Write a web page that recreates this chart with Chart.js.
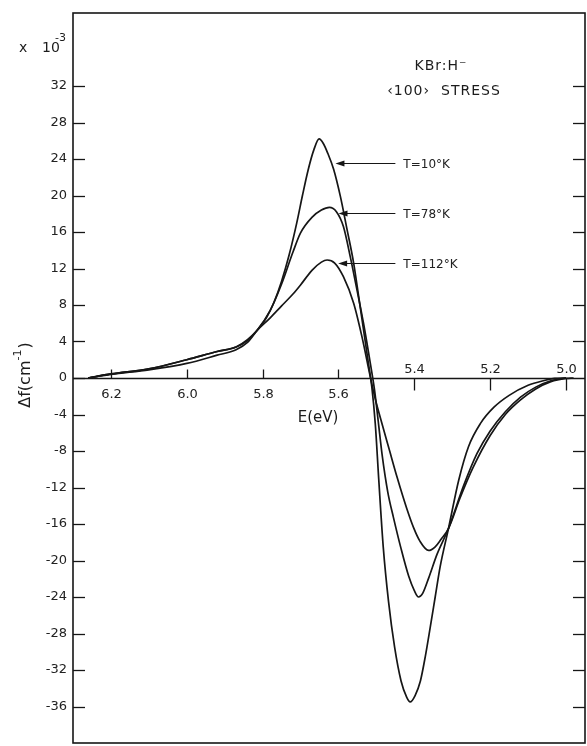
<!DOCTYPE html>
<html>
<head>
<meta charset="utf-8">
<script src="https://cdn.jsdelivr.net/npm/chart.js@4.4.0/dist/chart.umd.min.js"></script>
<style>
  html, body { margin: 0; padding: 0; background: #fff; }
  #wrap { width: 587px; height: 746px; }
</style>
</head>
<body>
<div id="wrap"><canvas id="canvasID" width="587" height="746"></canvas></div>
<script>
// values: E in eV, delta f in units of 1e-3 cm^-1
const energyT10 = [6.26, 6.20, 6.10, 6.00, 5.92, 5.87, 5.84, 5.815, 5.79, 5.77, 5.75, 5.73, 5.71, 5.695, 5.68, 5.665, 5.651, 5.64, 5.628, 5.613, 5.595, 5.578, 5.56, 5.547, 5.534, 5.521, 5.512, 5.503, 5.494, 5.482, 5.468, 5.452, 5.435, 5.42, 5.411, 5.398, 5.384, 5.371, 5.358, 5.345, 5.332, 5.31, 5.283, 5.257, 5.226, 5.19, 5.15, 5.10, 5.06, 5.03, 5.0]
const shiftT10 = [0, 0.4, 0.9, 1.6, 2.5, 3.1, 3.9, 5.2, 6.6, 8.3, 10.6, 13.5, 17.0, 20.0, 22.8, 25.0, 26.2, 25.7, 24.6, 22.9, 19.9, 16.4, 12.6, 9.0, 5.3, 1.6, -1.0, -5.0, -11.0, -18.5, -24.5, -29.5, -33.2, -35.0, -35.5, -34.8, -33.2, -30.5, -27.3, -24.0, -20.7, -16.5, -11.2, -7.5, -5.0, -3.2, -1.9, -0.8, -0.3, -0.05, 0]

const energyT78 = [6.26, 6.20, 6.10, 6.00, 5.92, 5.87, 5.84, 5.815, 5.78, 5.75, 5.72, 5.70, 5.67, 5.645, 5.624, 5.605, 5.587, 5.569, 5.551, 5.534, 5.516, 5.505, 5.495, 5.485, 5.47, 5.455, 5.435, 5.415, 5.40, 5.389, 5.378, 5.362, 5.34, 5.31, 5.27, 5.235, 5.20, 5.16, 5.12, 5.08, 5.04, 5.0]
const shiftT78 = [0, 0.45, 1.0, 2.0, 2.9, 3.4, 4.2, 5.2, 7.4, 10.3, 13.8, 15.9, 17.6, 18.4, 18.7, 18.2, 16.6, 13.3, 9.6, 6.0, 1.6, -1.3, -4.8, -8.4, -12.5, -15.3, -18.7, -21.7, -23.3, -24.0, -23.6, -21.9, -19.3, -16.5, -11.8, -8.3, -5.8, -3.7, -2.1, -1.0, -0.3, 0]

const energyT112 = [6.26, 6.20, 6.10, 6.00, 5.92, 5.87, 5.84, 5.815, 5.78, 5.75, 5.72, 5.70, 5.67, 5.645, 5.63, 5.61, 5.587, 5.56, 5.538, 5.516, 5.503, 5.49, 5.465, 5.446, 5.42, 5.402, 5.385, 5.3625, 5.345, 5.33, 5.31, 5.28, 5.245, 5.20, 5.16, 5.12, 5.08, 5.04, 5.0, 4.98]
const shiftT112 = [0, 0.45, 1.0, 2.0, 2.9, 3.4, 4.1, 5.2, 6.6, 7.9, 9.2, 10.2, 11.8, 12.7, 12.93, 12.6, 11.1, 8.2, 4.5, 0.1, -2.3, -4.3, -8.0, -10.8, -14.3, -16.4, -17.9, -18.9, -18.5, -17.7, -16.5, -13.2, -9.8, -6.3, -4.0, -2.4, -1.2, -0.4, -0.05, 0]

// curve labels and where their arrows touch the curves
const seriesLabels = ['T=10°K', 'T=78°K', 'T=112°K']
const arrowTipEnergy = [5.608, 5.600, 5.601]
const arrowLevel = [23.6, 18.05, 12.57]

const energyTicks = [6.2, 6.0, 5.8, 5.6, 5.4, 5.2, 5.0]
const shiftTicks = [32, 28, 24, 20, 16, 12, 8, 4, 0, -4, -8, -12, -16, -20, -24, -28, -32, -36]

const ink = '#161616'
const fontFamily = '"DejaVu Sans", "Liberation Sans", sans-serif'

const toPoints = (xs, ys) => xs.map((x, i) => ({ x: x, y: ys[i] }))

const line = (ctx, x1, y1, x2, y2) => {
  ctx.beginPath()
  ctx.moveTo(x1, y1)
  ctx.lineTo(x2, y2)
  ctx.stroke()
}

////////////////////////////////////////////////////////
// frame, zero axis, ticks and lettering
////////////////////////////////////////////////////////
const plotDecor = {
  id: 'plotDecor',
  beforeDatasetsDraw(chart) {
    const { ctx, chartArea: a, scales: { x, y } } = chart
    const y0 = Math.round(y.getPixelForValue(0)) + 0.5
    ctx.save()
    ctx.strokeStyle = ink
    ctx.lineWidth = 1.6
    ctx.strokeRect(a.left, a.top, a.right - a.left, a.bottom - a.top)

    ctx.lineWidth = 1.3
    line(ctx, a.left, y0, a.right, y0)

    shiftTicks.forEach((v) => {
      const py = Math.round(y.getPixelForValue(v)) + 0.5
      line(ctx, a.left, py, a.left + 12, py)
      if (v !== 0) line(ctx, a.right - 12, py, a.right, py)
    })

    ctx.font = '13px ' + fontFamily
    ctx.fillStyle = '#222'
    ctx.textAlign = 'center'
    ctx.textBaseline = 'middle'
    energyTicks.forEach((e) => {
      const px = Math.round(x.getPixelForValue(e)) + 0.5
      if (e > 5.5) {
        line(ctx, px, y0, px, y0 - 9)
        ctx.fillText(e.toFixed(1), px, y0 + 16)
      } else {
        line(ctx, px, y0, px, y0 + 12)
        ctx.fillText(e.toFixed(1), px, y0 - 9)
      }
    })
    ctx.restore()
  },
  afterDatasetsDraw(chart) {
    const { ctx, scales: { x, y } } = chart
    ctx.save()
    ctx.strokeStyle = ink
    ctx.fillStyle = ink
    ctx.lineWidth = 1.2
    const tailX = x.getPixelForValue(5.45)
    seriesLabels.forEach((label, i) => {
      const tipX = x.getPixelForValue(arrowTipEnergy[i])
      const py = Math.round(y.getPixelForValue(arrowLevel[i])) + 0.5
      line(ctx, tipX + 6, py, tailX, py)
      ctx.beginPath()
      ctx.moveTo(tipX, py)
      ctx.lineTo(tipX + 9, py - 3)
      ctx.lineTo(tipX + 9, py + 3)
      ctx.closePath()
      ctx.fill()
      ctx.font = '12px ' + fontFamily
      ctx.fillStyle = '#222'
      ctx.textAlign = 'left'
      ctx.textBaseline = 'middle'
      ctx.fillText(label, tailX + 8, py + 1)
      ctx.fillStyle = ink
    })

    ctx.fillStyle = '#1c1c1c'
    ctx.textAlign = 'center'
    ctx.textBaseline = 'middle'
    ctx.letterSpacing = '1px'
    ctx.font = '14px ' + fontFamily
    ctx.fillText('KBr:H⁻', 441, 66)
    ctx.fillText('‹100›  STRESS', 444, 91)
    ctx.letterSpacing = '0px'

    // E(eV) axis title, under the zero line
    ctx.font = '15px ' + fontFamily
    ctx.fillText('E(eV)', 318, y.getPixelForValue(0) + 40)

    // x 10^-3 multiplier
    ctx.textAlign = 'left'
    ctx.font = '14px ' + fontFamily
    ctx.fillText('x', 19, 48)
    ctx.fillText('10', 42, 48)
    ctx.font = '11px ' + fontFamily
    ctx.fillText('-3', 55, 38)

    // rotated y title: Δf(cm-1)
    ctx.translate(26, 375)
    ctx.rotate(-Math.PI / 2)
    ctx.font = '16px ' + fontFamily
    const main = 'Δf(cm'
    const supW = ctx.measureText(main).width
    ctx.font = '11px ' + fontFamily
    const expW = ctx.measureText('-1').width
    ctx.font = '16px ' + fontFamily
    const total = supW + expW + ctx.measureText(')').width + 1
    let cx = -total / 2
    ctx.fillText(main, cx, 0)
    cx += supW
    ctx.font = '11px ' + fontFamily
    ctx.fillText('-1', cx, -8)
    cx += expW + 1
    ctx.font = '16px ' + fontFamily
    ctx.fillText(')', cx, 0)
    ctx.restore()
  },
}

const curve = (points) => ({
  data: points,
  borderColor: ink,
  borderWidth: 1.7,
  pointRadius: 0,
  fill: false,
  cubicInterpolationMode: 'monotone',
})

new Chart(document.getElementById('canvasID'), {
  type: 'line',
  data: {
    datasets: [
      curve(toPoints(energyT10, shiftT10)),
      curve(toPoints(energyT78, shiftT78)),
      curve(toPoints(energyT112, shiftT112)),
    ],
  },
  options: {
    responsive: false,
    animation: false,
    devicePixelRatio: 1,
    layout: { padding: { left: 0, top: 13, right: 2, bottom: 3 } },
    scales: {
      x: {
        type: 'linear',
        reverse: true,
        min: 4.95,
        max: 6.30,
        display: false,
      },
      y: {
        min: -40,
        max: 40,
        grid: { display: false, drawTicks: false },
        border: { display: false },
        ticks: {
          stepSize: 4,
          padding: 6,
          color: '#222',
          font: { family: fontFamily, size: 13 },
          callback: (v) => (v > 32 || v < -36 ? '' : v),
        },
        afterFit: (scale) => {
          scale.width = 73
          scale.paddingTop = 0
          scale.paddingBottom = 0
        },
      },
    },
    plugins: {
      legend: { display: false },
      tooltip: { enabled: false },
    },
  },
  plugins: [plotDecor],
})
</script>
</body>
</html>
